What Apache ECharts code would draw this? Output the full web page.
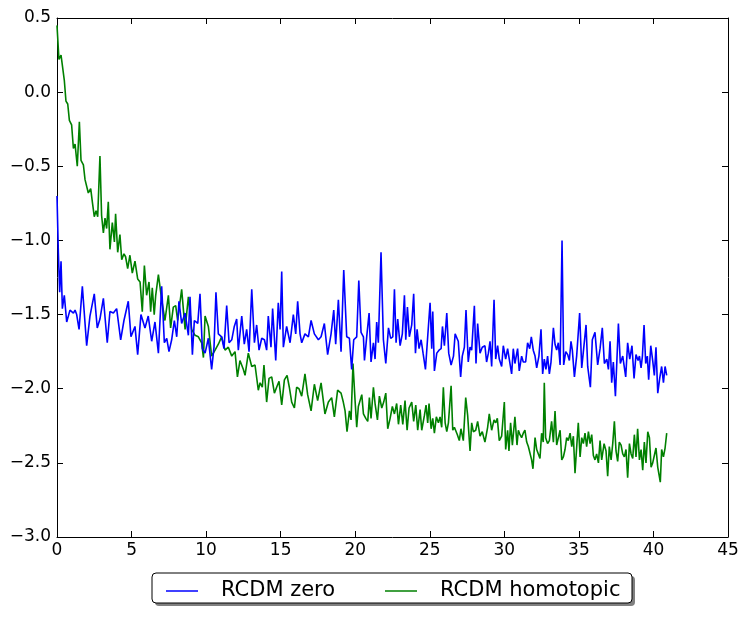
<!DOCTYPE html>
<html>
<head>
<meta charset="utf-8">
<script src="https://cdn.jsdelivr.net/npm/echarts@6/dist/echarts.min.js"></script>
<style>
html,body{margin:0;padding:0;background:#fff;}
#chart{width:747px;height:622px;}
</style>
</head>
<body>
<div id="chart"></div>
<script>
const seriesNames = ['RCDM zero', 'RCDM homotopic'];
const seriesColors = ['#0000ff', '#008000'];
const xTicks = { min: 0, max: 45, interval: 5 };
const yTicks = { min: -3.0, max: 0.5, interval: 0.5 };

const zeroPoints = [[0,-0.70],[0.09,-1.08],[0.18,-1.35],[0.27,-1.14],[0.36,-1.46],[0.49,-1.37],[0.65,-1.55],[0.87,-1.47],[1.10,-1.49],[1.21,-1.47],[1.32,-1.50],[1.48,-1.60],[1.70,-1.31],[1.99,-1.71],[2.21,-1.51],[2.50,-1.36],[2.70,-1.59],[2.88,-1.53],[3.11,-1.39],[3.37,-1.69],[3.55,-1.48],[3.78,-1.49],[4.00,-1.46],[4.27,-1.67],[4.49,-1.54],[4.78,-1.41],[4.96,-1.65],[5.23,-1.58],[5.41,-1.77],[5.63,-1.50],[5.90,-1.59],[6.12,-1.51],[6.35,-1.68],[6.57,-1.55],[6.80,-1.76],[7.02,-1.31],[7.20,-1.69],[7.36,-1.66],[7.51,-1.75],[7.69,-1.67],[7.87,-1.54],[8.03,-1.65],[8.18,-1.41],[8.36,-1.56],[8.59,-1.49],[8.81,-1.64],[8.92,-1.38],[9.08,-1.77],[9.21,-1.54],[9.44,-1.56],[9.59,-1.36],[9.75,-1.73],[9.93,-1.76],[10.15,-1.66],[10.37,-1.87],[10.53,-1.72],[10.66,-1.35],[10.82,-1.63],[11.04,-1.65],[11.20,-1.73],[11.38,-1.44],[11.54,-1.69],[11.72,-1.67],[11.89,-1.58],[12.05,-1.53],[12.16,-1.74],[12.39,-1.51],[12.56,-1.70],[12.72,-1.60],[12.88,-1.75],[13.06,-1.33],[13.24,-1.69],[13.39,-1.57],[13.55,-1.74],[13.73,-1.66],[13.91,-1.67],[14.06,-1.74],[14.17,-1.51],[14.35,-1.72],[14.46,-1.46],[14.67,-1.81],[14.84,-1.42],[14.96,-1.60],[15.07,-1.21],[15.18,-1.72],[15.40,-1.58],[15.63,-1.69],[15.85,-1.50],[16.01,-1.63],[16.14,-1.41],[16.30,-1.63],[16.41,-1.69],[16.63,-1.63],[16.86,-1.65],[17.04,-1.54],[17.26,-1.63],[17.53,-1.67],[17.71,-1.65],[17.93,-1.56],[18.15,-1.77],[18.38,-1.63],[18.56,-1.47],[18.69,-1.70],[18.87,-1.40],[19.05,-1.75],[19.23,-1.20],[19.43,-1.65],[19.61,-1.66],[19.76,-1.87],[19.90,-1.67],[20.10,-1.65],[20.24,-1.27],[20.39,-1.62],[20.55,-1.65],[20.62,-1.81],[20.77,-1.65],[20.93,-1.49],[21.06,-1.82],[21.22,-1.69],[21.33,-1.80],[21.44,-1.55],[21.55,-1.69],[21.73,-1.08],[21.89,-1.67],[22.05,-1.83],[22.23,-1.59],[22.38,-1.66],[22.52,-1.65],[22.63,-1.33],[22.74,-1.69],[22.85,-1.53],[23.01,-1.71],[23.16,-1.63],[23.30,-1.37],[23.39,-1.67],[23.50,-1.45],[23.63,-1.65],[23.79,-1.57],[23.92,-1.36],[24.04,-1.76],[24.15,-1.60],[24.28,-1.73],[24.42,-1.67],[24.55,-1.76],[24.71,-1.87],[24.86,-1.65],[25.02,-1.42],[25.13,-1.73],[25.20,-1.48],[25.31,-1.88],[25.47,-1.76],[25.62,-1.74],[25.76,-1.73],[25.85,-1.58],[25.98,-1.71],[26.14,-1.49],[26.27,-1.76],[26.43,-1.84],[26.59,-1.78],[26.70,-1.63],[26.91,-1.68],[27.07,-1.92],[27.18,-1.78],[27.32,-1.72],[27.43,-1.47],[27.58,-1.82],[27.70,-1.72],[27.81,-1.74],[27.99,-1.44],[28.10,-1.83],[28.21,-1.56],[28.37,-1.76],[28.52,-1.72],[28.70,-1.71],[28.81,-1.82],[28.93,-1.76],[29.04,-1.68],[29.15,-1.85],[29.31,-1.40],[29.42,-1.80],[29.55,-1.71],[29.66,-1.80],[29.82,-1.85],[29.93,-1.71],[30.09,-1.80],[30.22,-1.73],[30.33,-1.80],[30.49,-1.90],[30.60,-1.73],[30.71,-1.83],[30.89,-1.73],[31.00,-1.88],[31.16,-1.78],[31.27,-1.82],[31.43,-1.82],[31.56,-1.69],[31.70,-1.73],[31.81,-1.65],[31.94,-1.74],[32.06,-1.78],[32.17,-1.86],[32.32,-1.78],[32.46,-1.60],[32.57,-1.90],[32.68,-1.80],[32.79,-1.87],[32.90,-1.78],[33.02,-1.90],[33.13,-1.82],[33.29,-1.59],[33.40,-1.70],[33.51,-1.74],[33.62,-1.69],[33.74,-1.84],[33.87,-1.00],[33.98,-1.84],[34.12,-1.75],[34.25,-1.77],[34.36,-1.81],[34.47,-1.68],[34.56,-1.74],[34.70,-1.92],[34.85,-1.78],[35.05,-1.49],[35.19,-1.86],[35.30,-1.75],[35.48,-1.57],[35.59,-1.85],[35.77,-1.99],[35.90,-1.67],[36.08,-1.62],[36.26,-1.84],[36.42,-1.73],[36.57,-1.59],[36.71,-1.83],[36.87,-1.80],[36.98,-1.87],[37.09,-1.68],[37.20,-1.96],[37.31,-1.82],[37.45,-2.05],[37.65,-1.56],[37.78,-1.83],[37.94,-1.78],[38.14,-1.92],[38.27,-1.69],[38.41,-1.80],[38.56,-1.71],[38.70,-1.93],[38.83,-1.77],[38.97,-1.81],[39.06,-1.78],[39.17,-1.86],[39.26,-1.78],[39.37,-1.57],[39.48,-1.83],[39.59,-1.78],[39.68,-1.94],[39.82,-1.71],[39.95,-1.81],[40.06,-1.91],[40.17,-1.72],[40.29,-2.03],[40.42,-1.93],[40.55,-1.85],[40.67,-1.96],[40.78,-1.85],[40.89,-1.91]];

const homotopicPoints = [[0,0.45],[0.13,0.22],[0.27,0.25],[0.36,0.18],[0.49,0.08],[0.60,-0.06],[0.72,-0.08],[0.83,-0.19],[0.98,-0.22],[1.10,-0.38],[1.21,-0.35],[1.36,-0.50],[1.50,-0.20],[1.61,-0.46],[1.77,-0.49],[1.88,-0.59],[1.99,-0.60],[2.10,-0.68],[2.26,-0.65],[2.37,-0.74],[2.50,-0.84],[2.62,-0.80],[2.73,-0.84],[2.88,-0.43],[2.99,-0.83],[3.11,-0.95],[3.22,-0.85],[3.33,-0.92],[3.44,-0.74],[3.55,-1.06],[3.71,-0.88],[3.85,-1.01],[3.93,-0.82],[4.07,-1.08],[4.22,-0.96],[4.34,-1.13],[4.49,-1.09],[4.60,-1.11],[4.74,-1.19],[4.89,-1.10],[5.05,-1.22],[5.23,-1.14],[5.41,-1.26],[5.57,-1.28],[5.72,-1.48],[5.86,-1.17],[6.01,-1.37],[6.17,-1.28],[6.28,-1.48],[6.39,-1.32],[6.52,-1.50],[6.62,-1.37],[6.80,-1.23],[7.02,-1.40],[7.24,-1.54],[7.47,-1.37],[7.62,-1.59],[7.80,-1.45],[7.96,-1.44],[8.09,-1.54],[8.36,-1.33],[8.59,-1.60],[8.81,-1.38],[9.03,-1.60],[9.26,-1.64],[9.48,-1.65],[9.70,-1.69],[9.82,-1.79],[9.93,-1.51],[10.15,-1.58],[10.37,-1.78],[10.60,-1.74],[10.82,-1.70],[11.04,-1.65],[11.27,-1.74],[11.49,-1.72],[11.72,-1.78],[11.94,-1.75],[12.10,-1.92],[12.27,-1.81],[12.50,-1.87],[12.61,-1.91],[12.83,-1.76],[13.06,-1.85],[13.28,-1.84],[13.50,-2.01],[13.62,-1.96],[13.77,-1.99],[13.88,-1.84],[14.06,-2.09],[14.22,-1.93],[14.40,-1.92],[14.58,-2.03],[14.73,-1.99],[14.89,-1.95],[15.07,-2.11],[15.25,-1.94],[15.43,-1.91],[15.58,-1.99],[15.74,-2.09],[15.92,-2.13],[16.07,-1.99],[16.23,-2.00],[16.41,-2.05],[16.63,-1.90],[16.81,-2.04],[17.04,-2.15],[17.26,-1.97],[17.48,-2.08],[17.71,-1.96],[17.97,-2.17],[18.20,-2.09],[18.42,-2.06],[18.60,-2.19],[18.82,-2.01],[19.05,-2.03],[19.20,-2.09],[19.32,-2.15],[19.45,-2.29],[19.61,-2.15],[19.72,-2.21],[19.85,-1.83],[19.99,-2.08],[20.10,-2.26],[20.21,-2.12],[20.44,-2.04],[20.55,-2.17],[20.71,-2.20],[20.84,-2.22],[20.95,-2.06],[21.06,-2.20],[21.22,-1.99],[21.33,-2.10],[21.49,-2.21],[21.62,-2.05],[21.78,-2.13],[21.91,-2.09],[22.05,-2.03],[22.18,-2.27],[22.34,-2.20],[22.49,-2.12],[22.63,-2.17],[22.78,-2.10],[22.90,-2.24],[23.05,-2.11],[23.19,-2.24],[23.34,-2.08],[23.48,-2.28],[23.61,-2.13],[23.79,-2.09],[23.92,-2.22],[24.06,-2.11],[24.19,-2.28],[24.35,-2.14],[24.46,-2.28],[24.64,-2.18],[24.75,-2.11],[24.86,-2.23],[24.95,-2.10],[25.09,-2.27],[25.20,-2.20],[25.31,-2.30],[25.44,-2.19],[25.58,-2.23],[25.69,-2.19],[25.80,-2.26],[25.91,-1.99],[26.03,-2.23],[26.14,-2.29],[26.25,-2.23],[26.43,-1.98],[26.54,-2.28],[26.65,-2.26],[26.85,-2.31],[26.98,-2.35],[27.09,-2.27],[27.25,-2.35],[27.41,-2.06],[27.54,-2.18],[27.70,-2.42],[27.81,-2.23],[27.92,-2.29],[28.08,-2.28],[28.21,-2.22],[28.37,-2.32],[28.52,-2.29],[28.70,-2.36],[28.88,-2.26],[28.99,-2.17],[29.15,-2.28],[29.31,-2.21],[29.42,-2.23],[29.53,-2.20],[29.66,-2.35],[29.82,-2.32],[30.00,-2.09],[30.09,-2.41],[30.22,-2.28],[30.31,-2.42],[30.42,-2.23],[30.54,-2.38],[30.71,-2.19],[30.85,-2.38],[30.94,-2.28],[31.05,-2.31],[31.16,-2.33],[31.27,-2.30],[31.38,-2.28],[31.50,-2.36],[31.61,-2.39],[31.72,-2.39],[31.83,-2.48],[31.92,-2.54],[32.06,-2.33],[32.17,-2.41],[32.28,-2.42],[32.39,-2.47],[32.50,-2.30],[32.61,-2.36],[32.68,-1.96],[32.77,-2.33],[32.90,-2.37],[33.02,-2.35],[33.17,-2.22],[33.29,-2.36],[33.40,-2.15],[33.51,-2.38],[33.62,-2.37],[33.74,-2.28],[33.85,-2.48],[33.96,-2.46],[34.07,-2.41],[34.18,-2.33],[34.29,-2.35],[34.41,-2.30],[34.52,-2.39],[34.63,-2.32],[34.74,-2.57],[34.88,-2.35],[34.96,-2.23],[35.08,-2.46],[35.19,-2.33],[35.30,-2.37],[35.41,-2.30],[35.52,-2.39],[35.64,-2.29],[35.75,-2.37],[35.86,-2.31],[35.97,-2.45],[36.08,-2.48],[36.19,-2.44],[36.31,-2.50],[36.42,-2.35],[36.53,-2.48],[36.69,-2.37],[36.82,-2.42],[36.93,-2.59],[37.04,-2.39],[37.16,-2.48],[37.27,-2.37],[37.38,-2.22],[37.49,-2.42],[37.60,-2.49],[37.71,-2.36],[37.83,-2.38],[37.94,-2.44],[38.05,-2.46],[38.16,-2.41],[38.27,-2.60],[38.39,-2.37],[38.50,-2.44],[38.61,-2.47],[38.72,-2.31],[38.83,-2.46],[38.94,-2.27],[39.06,-2.48],[39.17,-2.41],[39.28,-2.55],[39.39,-2.36],[39.50,-2.50],[39.62,-2.29],[39.73,-2.33],[39.84,-2.53],[39.95,-2.50],[40.06,-2.50],[40.17,-2.40],[40.29,-2.53],[40.40,-2.54],[40.46,-2.63],[40.55,-2.41],[40.67,-2.46],[40.78,-2.40],[40.89,-2.30]];

const FONT = 'DejaVu Sans';
const chart = echarts.init(document.getElementById('chart'), null, { renderer: 'canvas' });

function axisBase(extra) {
  return Object.assign({
    type: 'value',
    splitLine: { show: false },
    axisLine: { show: true, onZero: false, lineStyle: { color: '#000', width: 1 } },
    axisTick: { show: true, inside: true, length: 6, lineStyle: { color: '#000', width: 1 } },
    axisLabel: { show: false },
  }, extra);
}
const minusFmt = d => v => v.toFixed(d).replace('-', '\u2212');

function legendItem(name, left) {
  return {
    data: [name],
    left: left, top: 577, padding: 0,
    icon: 'rect',
    itemWidth: 32, itemHeight: 1.5,
    textStyle: { fontFamily: FONT, fontSize: 21, color: '#000', padding: [0, 0, 0, 18], lineHeight: 28 },
  };
}

const option = {
  animation: false,
  backgroundColor: '#fff',
  grid: { left: 57, right: 19, top: 18, bottom: 85, containLabel: false },
  xAxis: [
    axisBase({ position: 'bottom', min: xTicks.min, max: xTicks.max, interval: xTicks.interval,
      axisLabel: { show: true, color: '#000', fontFamily: FONT, fontSize: 17, margin: 5, formatter: minusFmt(0) } }),
    axisBase({ position: 'top', min: xTicks.min, max: xTicks.max, interval: xTicks.interval })
  ],
  yAxis: [
    axisBase({ position: 'left', min: yTicks.min, max: yTicks.max, interval: yTicks.interval,
      axisLabel: { show: true, color: '#000', fontFamily: FONT, fontSize: 17, margin: 6, formatter: minusFmt(1) } }),
    axisBase({ position: 'right', min: yTicks.min, max: yTicks.max, interval: yTicks.interval })
  ],
  legend: [ legendItem(seriesNames[0], 166), legendItem(seriesNames[1], 385) ],
  graphic: [
    { type: 'rect', z: -1, shape: { x: 155, y: 576, width: 480, height: 30, r: 4 }, style: { fill: '#808080' }, silent: true },
    { type: 'rect', z: 0, shape: { x: 152, y: 573, width: 480, height: 30, r: 4 }, style: { fill: '#fff', stroke: '#000', lineWidth: 1 }, silent: true },
  ],
  series: [
    { name: seriesNames[0], type: 'line', data: zeroPoints, symbol: 'none', showSymbol: false, color: seriesColors[0],
      lineStyle: { color: seriesColors[0], width: 1.6 }, z: 3 },
    { name: seriesNames[1], type: 'line', data: homotopicPoints, symbol: 'none', showSymbol: false, color: seriesColors[1],
      lineStyle: { color: seriesColors[1], width: 1.6 }, z: 2 },
  ]
};
chart.setOption(option);
</script>
</body>
</html>
